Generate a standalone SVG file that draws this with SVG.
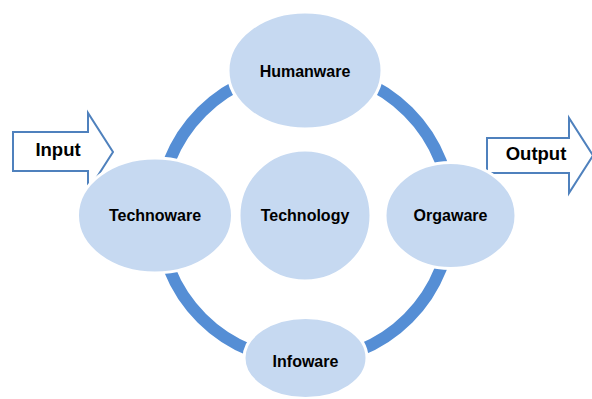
<svg xmlns="http://www.w3.org/2000/svg" width="592" height="399" viewBox="0 0 592 399">
<style>
.node{fill:#c6d9f1;stroke:#ffffff;stroke-width:3}
.lbl{font-family:"Liberation Sans",Arial,sans-serif;font-weight:bold;font-size:16px;fill:#000;text-anchor:middle}
.arr{fill:#ffffff;stroke:#4f81bd;stroke-width:2;stroke-linejoin:miter}
.io{font-family:"Liberation Sans",Arial,sans-serif;font-weight:bold;font-size:18.5px;fill:#000;text-anchor:middle}
</style>
<rect width="592" height="399" fill="#ffffff"/>
<g id="connectors">
<circle cx="305" cy="215" r="146" fill="none" stroke="#558ed5" stroke-width="12"/>
</g>
<g id="input">
<polygon class="arr" points="13,132 88,132 88,113 113,152 88,191 88,171 13,171"/>
<text class="io" x="58" y="156">Input</text>
</g>
<g id="output">
<polygon class="arr" points="487,138 569,138 569,118 593,155.5 569,193 569,173 487,173"/>
<text class="io" x="536" y="160">Output</text>
</g>
<g id="humanware">
<ellipse class="node" cx="305" cy="70.5" rx="77" ry="58.5"/>
<text class="lbl" x="305" y="77">Humanware</text>
</g>
<g id="technoware">
<ellipse class="node" cx="155" cy="215.5" rx="77.5" ry="57.5"/>
<text class="lbl" x="155" y="221">Technoware</text>
</g>
<g id="technology">
<ellipse class="node" cx="305" cy="215.5" rx="66" ry="65.5"/>
<text class="lbl" x="305" y="221">Technology</text>
</g>
<g id="orgaware">
<ellipse class="node" cx="450.5" cy="215.5" rx="65.5" ry="53"/>
<text class="lbl" x="450.5" y="221">Orgaware</text>
</g>
<g id="infoware">
<ellipse class="node" cx="305.5" cy="358" rx="61.5" ry="40.5"/>
<text class="lbl" x="305.5" y="367">Infoware</text>
</g>
</svg>
